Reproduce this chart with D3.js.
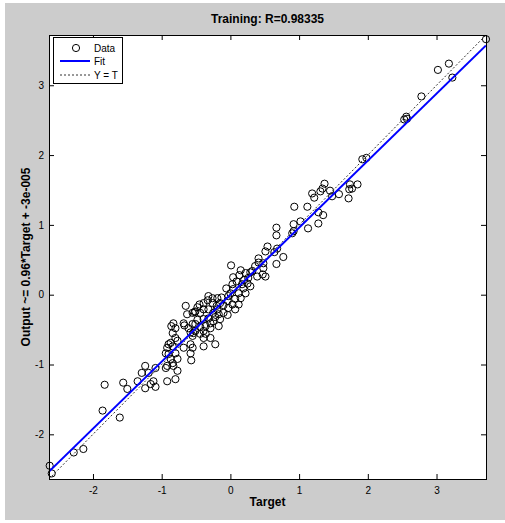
<!DOCTYPE html>
<html>
<head>
<meta charset="utf-8">
<script src="https://cdn.jsdelivr.net/npm/d3@7"></script>
<style>
  body { margin: 0; background: #ffffff; }
  text { font-family: "Liberation Sans", Arial, sans-serif; }
</style>
</head>
<body>
<svg id="chart" width="505" height="523"></svg>
<script>
// Regression plot of network outputs against targets (training set)
const targets = [
  3.72, 3.18, 3.02, 3.23, 2.78, 2.56, 2.53, 2.57, 1.92, 1.98,
  1.37, 1.34, 1.31, 1.19, 1.22, 1.45, 1.48, 1.58, 1.74, 1.77,
  1.85, 1.73, 1.72, 0.93, 1.12, 1.28, 1.35, 1.28, 1.13, 0.92,
  0.92, 1.02, 0.67, 0.67, 0.90, 0.54, 0.68, 0.64, 0.77, 0.51,
  0.67, 0.41, 0.41, 0.48, 0.48, 0.36, 0.47, 0.39, 0.51, 0.32,
  0.01, 0.15, 0.13, 0.29, 0.26, 0.04, 0.20, 0.25, 0.03, 0.04,
  0.19, 0.12, 0.22, 0.15, 0.07, 0.00, -0.03, -0.04, 0.03, 0.12,
  -0.03, 0.07, -0.10, -0.15, -0.20, -0.26, -0.33, -0.39, -0.32, -0.39,
  -0.44, -0.51, -0.55, -0.65, -0.63, -0.25, -0.17, -0.10, -0.04, -0.15,
  -0.25, -0.32, -0.39, -0.48, -0.51, -0.44, -0.36, -0.29, -0.39, -0.51,
  -0.58, -0.61, -0.44, -0.17, -0.32, -0.26, -0.19, -0.45, 0.17, -0.19,
  -0.22, -0.29, -0.83, -0.86, -0.80, -0.84, -0.68, -0.67, -0.55, -0.54,
  -0.36, -0.55, -0.39, -0.29, -0.22, -0.39, -0.58, -0.55, -0.58, -0.57,
  -0.80, -0.77, -0.90, -0.92, -0.87, -0.84, -0.94, -0.90, -0.87, -0.84,
  -0.92, -0.94, -0.83, -0.77, -0.80, -0.92, -1.24, -1.09, -1.19, -1.12,
  -1.16, -1.09, -1.29, -1.35, -1.24, -1.50, -1.56, -1.83, -1.86, -1.61,
  -2.14, -2.28, -2.63, -2.60, -0.48, -0.52, -0.68, -0.80, -0.77, 0.22,
  -0.06, 0.09, 0.29, -0.13
];
const outputs = [
  3.66, 3.31, 3.22, 3.11, 2.84, 2.55, 2.51, 2.52, 1.94, 1.96,
  1.59, 1.52, 1.48, 1.45, 1.39, 1.49, 1.41, 1.44, 1.58, 1.52,
  1.58, 1.51, 1.38, 1.26, 1.26, 1.18, 1.14, 1.02, 0.95, 1.01,
  0.91, 1.05, 0.96, 0.85, 0.88, 0.69, 0.66, 0.61, 0.54, 0.62,
  0.44, 0.52, 0.46, 0.45, 0.38, 0.41, 0.29, 0.26, 0.26, 0.34,
  0.42, 0.35, 0.28, 0.32, 0.24, 0.25, 0.21, 0.16, 0.15, 0.08,
  0.09, 0.02, 0.02, -0.05, -0.06, 0.02, -0.02, -0.09, -0.14, -0.14,
  -0.19, -0.21, -0.15, -0.12, -0.16, -0.12, -0.08, -0.12, -0.21, -0.21,
  -0.26, -0.24, -0.26, -0.16, -0.28, -0.26, -0.28, -0.26, -0.29, -0.35,
  -0.38, -0.34, -0.35, -0.36, -0.42, -0.46, -0.45, -0.48, -0.52, -0.52,
  -0.54, -0.48, -0.56, -0.45, -0.02, -0.05, -0.05, -0.14, 0.15, -0.21,
  -0.32, -0.41, -0.41, -0.45, -0.48, -0.55, -0.41, -0.44, -0.42, -0.55,
  -0.56, -0.59, -0.62, -0.62, -0.71, -0.74, -0.71, -0.76, -0.84, -0.94,
  -0.62, -0.66, -0.71, -0.76, -0.69, -0.74, -0.84, -0.85, -0.92, -0.98,
  -1.02, -1.05, -1.02, -1.09, -1.21, -1.24, -1.02, -1.05, -1.12, -1.24,
  -1.28, -1.32, -1.12, -1.24, -1.34, -1.35, -1.26, -1.29, -1.66, -1.76,
  -2.21, -2.26, -2.45, -2.56, -0.18, -0.25, -0.76, -0.84, -0.92, 0.31,
  0.09, 0.19, 0.12, -0.04
];
const axisLimits = [-2.64, 3.72];
const tickValues = [-2, -1, 0, 1, 2, 3];
const fitSlope = 0.96;
const fitIntercept = -3e-5;
const titleText = "Training: R=0.98335";
const xLabelText = "Target";
const yLabelText = "Output ~= 0.96*Target + -3e-005";
const legendLabels = ["Data", "Fit", "Y = T"];

const W = 505, H = 523;
const plot = { left: 49, right: 486, top: 35, bottom: 479 };

const svg = d3.select("#chart");

// figure background
svg.append("rect").attr("x", 5).attr("y", 3).attr("width", W - 5).attr("height", 517)
  .attr("fill", "#cccccc");

const x = d3.scaleLinear().domain(axisLimits).range([plot.left, plot.right]);
const y = d3.scaleLinear().domain(axisLimits).range([plot.bottom, plot.top]);

// axes area
svg.append("rect")
  .attr("x", plot.left).attr("y", plot.top)
  .attr("width", plot.right - plot.left).attr("height", plot.bottom - plot.top)
  .attr("fill", "#ffffff");

svg.append("clipPath").attr("id", "plotclip").append("rect")
  .attr("x", plot.left).attr("y", plot.top)
  .attr("width", plot.right - plot.left).attr("height", plot.bottom - plot.top);

const points = targets.map((t, i) => ({ t, o: outputs[i] }));

// data markers
svg.append("g").selectAll("circle").data(points).join("circle")
  .attr("cx", d => x(d.t)).attr("cy", d => y(d.o)).attr("r", 3.6)
  .attr("fill", "none").attr("stroke", "#000").attr("stroke-width", 1);

// Y = T reference line
svg.append("line").attr("clip-path", "url(#plotclip)")
  .attr("x1", x(axisLimits[0])).attr("y1", y(axisLimits[0]))
  .attr("x2", x(axisLimits[1])).attr("y2", y(axisLimits[1]))
  .attr("stroke", "#333").attr("stroke-width", 1).attr("stroke-dasharray", "2,2");

// linear fit
const fit = t => fitSlope * t + fitIntercept;
svg.append("line").attr("clip-path", "url(#plotclip)")
  .attr("x1", x(axisLimits[0])).attr("y1", y(fit(axisLimits[0])))
  .attr("x2", x(axisLimits[1])).attr("y2", y(fit(axisLimits[1])))
  .attr("stroke", "#0000ff").attr("stroke-width", 2);

// axes with inward ticks on all four sides
const tickLen = 5;
const fmt = d => String(d);
const axStyle = g => {
  g.select(".domain").remove();
  g.selectAll(".tick line").attr("stroke", "#000");
  g.selectAll(".tick text").attr("fill", "#000").style("font-size", "10px")
    .style("font-family", "'Liberation Sans', Arial, sans-serif");
};
svg.append("g").attr("transform", `translate(0,${plot.bottom})`)
  .call(d3.axisBottom(x).tickValues(tickValues).tickFormat(fmt)
    .tickSizeInner(-tickLen).tickSizeOuter(0).tickPadding(8))
  .call(axStyle);
svg.append("g").attr("transform", `translate(0,${plot.top})`)
  .call(d3.axisTop(x).tickValues(tickValues).tickFormat("").tickSizeInner(-tickLen).tickSizeOuter(0))
  .call(axStyle);
svg.append("g").attr("transform", `translate(${plot.left},0)`)
  .call(d3.axisLeft(y).tickValues(tickValues).tickFormat(fmt)
    .tickSizeInner(-tickLen).tickSizeOuter(0).tickPadding(5))
  .call(axStyle);
svg.append("g").attr("transform", `translate(${plot.right},0)`)
  .call(d3.axisRight(y).tickValues(tickValues).tickFormat("").tickSizeInner(-tickLen).tickSizeOuter(0))
  .call(axStyle);

// axes box
svg.append("rect")
  .attr("x", plot.left).attr("y", plot.top)
  .attr("width", plot.right - plot.left).attr("height", plot.bottom - plot.top)
  .attr("fill", "none").attr("stroke", "#000").attr("stroke-width", 1)
  .attr("shape-rendering", "crispEdges");

// title and labels
const cx = (plot.left + plot.right) / 2;
const cy = (plot.top + plot.bottom) / 2;
svg.append("text").attr("x", cx).attr("y", 23).attr("text-anchor", "middle")
  .style("font-size", "12px").style("font-weight", "bold").text(titleText);
svg.append("text").attr("x", cx).attr("y", 506).attr("text-anchor", "middle")
  .style("font-size", "12px").style("font-weight", "bold").text(xLabelText);
svg.append("text").attr("transform", `translate(30,${cy}) rotate(-90)`)
  .attr("text-anchor", "middle")
  .style("font-size", "12px").style("font-weight", "bold").text(yLabelText);

// legend
const lg = svg.append("g");
lg.append("rect").attr("x", 53.5).attr("y", 37.5).attr("width", 69).attr("height", 46)
  .attr("fill", "#fff").attr("stroke", "#000").attr("stroke-width", 1);
const rows = [48, 61, 75];
lg.append("circle").attr("cx", 76).attr("cy", rows[0]).attr("r", 3.6)
  .attr("fill", "none").attr("stroke", "#000");
lg.append("line").attr("x1", 60).attr("x2", 90).attr("y1", rows[1]).attr("y2", rows[1])
  .attr("stroke", "#0000ff").attr("stroke-width", 2);
lg.append("line").attr("x1", 60).attr("x2", 90).attr("y1", rows[2]).attr("y2", rows[2])
  .attr("stroke", "#333").attr("stroke-width", 1).attr("stroke-dasharray", "2,2");
legendLabels.forEach((s, i) => {
  lg.append("text").attr("x", 94).attr("y", rows[i] + 3.5)
    .style("font-size", "10px").text(s);
});
</script>
</body>
</html>
